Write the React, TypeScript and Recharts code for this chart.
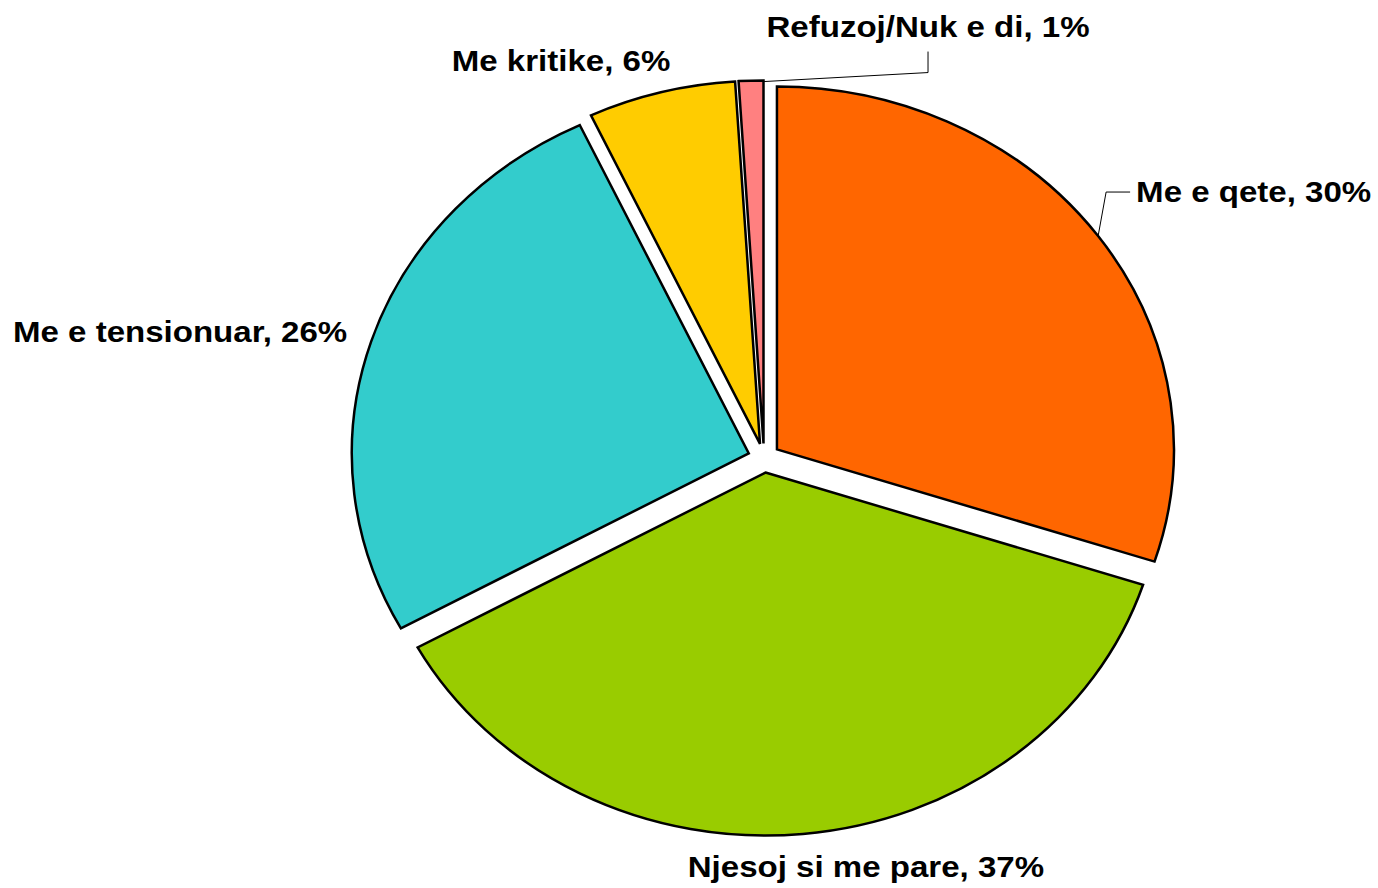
import { PieChart, Pie, Cell } from "recharts";

const categories = ["Me e qete", "Njesoj si me pare", "Me e tensionuar", "Me kritike", "Refuzoj/Nuk e di"];
const shares = [30, 37, 26, 6, 1];
const colors = ["#FF6600", "#99CC00", "#33CCCC", "#FFCC00", "#FF8080"];

const data = categories.map((name, i) => ({ name, value: shares[i] }));

// pie is drawn slightly flattened, like the original
const RX = 397;
const RY = 363;
const EXPLODE = 16;
const TEXT_SCALE = 1.14;

const RAD = Math.PI / 180;

// where each label sits relative to the slice's outer edge point
const labelPos = [
  { dx: 38, dy: -34, anchor: "start" },
  { dx: 63, dy: 43, anchor: "middle" },
  { dx: -24, dy: 1, anchor: "end" },
  { dx: 9, dy: -21, anchor: "end" },
  { dx: 177, dy: -44, anchor: "middle" },
];

const sliceCenter = (cx: number, cy: number, mid: number) => ({
  x: cx + EXPLODE * Math.cos(mid * RAD),
  y: cy - EXPLODE * Math.sin(mid * RAD) * (RY / RX),
});

const ExplodedSlice = (props: any) => {
  const { cx, cy, startAngle, endAngle, midAngle, fill } = props;
  const c = sliceCenter(cx, cy, midAngle);
  const x1 = c.x + RX * Math.cos(startAngle * RAD);
  const y1 = c.y - RY * Math.sin(startAngle * RAD);
  const x2 = c.x + RX * Math.cos(endAngle * RAD);
  const y2 = c.y - RY * Math.sin(endAngle * RAD);
  const large = Math.abs(startAngle - endAngle) > 180 ? 1 : 0;
  const sweep = startAngle > endAngle ? 1 : 0;
  const d = `M${c.x},${c.y} L${x1},${y1} A${RX},${RY} 0 ${large} ${sweep} ${x2},${y2} Z`;
  return <path d={d} fill={fill} stroke="#000" strokeWidth={2.5} strokeLinejoin="miter" />;
};

const renderLabel = (props: any) => {
  const { cx, cy, midAngle, index, name, value } = props;
  const c = sliceCenter(cx, cy, midAngle);
  const ex = c.x + RX * Math.cos(midAngle * RAD);
  const ey = c.y - RY * Math.sin(midAngle * RAD);
  const p = labelPos[index];
  const tx = ex + p.dx;
  const ty = ey + p.dy;
  let leader = null;
  if (index === 0) {
    leader = (
      <polyline
        points={`${ex},${ey} ${ex + 8},${ty - 10} ${tx - 6},${ty - 10}`}
        fill="none"
        stroke="#000"
        strokeWidth={1}
      />
    );
  } else if (index === 4) {
    leader = (
      <polyline
        points={`${ex + 13},${ey + 1} ${tx},${ty + 36} ${tx},${ty + 15}`}
        fill="none"
        stroke="#000"
        strokeWidth={1}
      />
    );
  }
  return (
    <g key={`lbl-${index}`}>
      {leader}
      <text
        transform={`translate(${tx},${ty}) scale(${TEXT_SCALE},1)`}
        x={0}
        y={0}
        textAnchor={p.anchor}
        fontFamily="'Liberation Sans', Arial, sans-serif"
        fontWeight="bold"
        fontSize={29}
        fill="#000"
      >
        {`${name}, ${value}%`}
      </text>
    </g>
  );
};

export default function App() {
  return (
    <div style={{ position: "absolute", left: 0, top: 0, background: "#fff" }}>
      <PieChart width={1378} height={888} margin={{ top: 0, right: 0, bottom: 0, left: 0 }}>
        <Pie
          data={data}
          dataKey="value"
          nameKey="name"
          cx={764}
          cy={458}
          outerRadius={RX}
          startAngle={90}
          endAngle={-270}
          paddingAngle={0}
          shape={ExplodedSlice}
          label={renderLabel}
          labelLine={false}
          isAnimationActive={false}
        >
          {data.map((d, i) => (
            <Cell key={d.name} fill={colors[i]} />
          ))}
        </Pie>
      </PieChart>
    </div>
  );
}
